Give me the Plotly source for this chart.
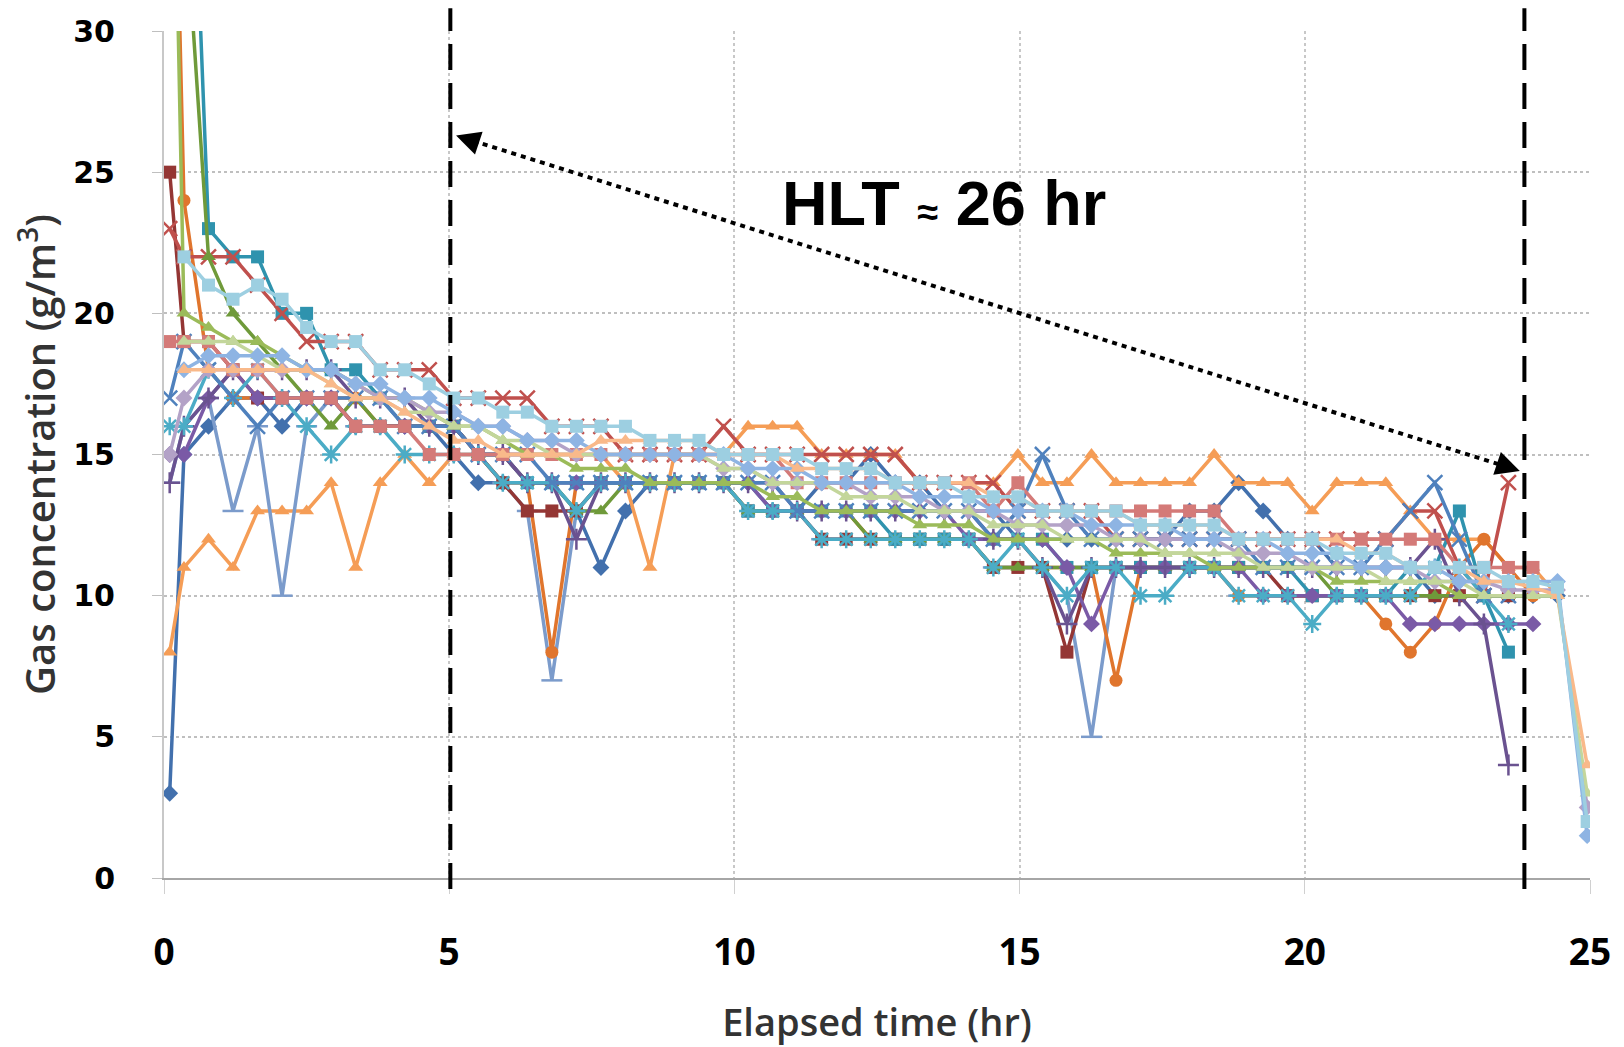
import plotly.graph_objects as go

# Sampling times (hr)
time_hr = [0.10, 0.35, 0.78, 1.21, 1.64, 2.07, 2.50, 2.93, 3.36, 3.79, 4.22, 4.65, 5.08, 5.51, 5.94,
           6.37, 6.80, 7.23, 7.66, 8.09, 8.52, 8.95, 9.38, 9.81, 10.24, 10.67, 11.10, 11.53, 11.96,
           12.39, 12.82, 13.25, 13.68, 14.11, 14.54, 14.97, 15.40, 15.83, 16.26, 16.69, 17.12, 17.55,
           17.98, 18.41, 18.84, 19.27, 19.70, 20.13, 20.56, 20.99, 21.42, 21.85, 22.28, 22.71, 23.14,
           23.57, 24.00, 24.43, 24.95]

# Gas concentration series (g/m3), one per test
s_blue_diamond = [3, 15, 16, 17, 17, 16, 17, 17, 16, 16, 16, 16, 15, 14, 14, 14, 14, 13, 11, 13, 14, 14, 14, 14,
                  14, 13, 13, 14, 14, 15, 14, 14, 13, 13, 13, 12, 12, 12, 12, 12, 12, 12, 13, 13, 14, 13, 12, 12,
                  11, 11, 11, 11, 10, 10, 10, 10, 10, 10, None]
s_orange_tri = [8, 11, 12, 11, 13, 13, 13, 14, 11, 14, 15, 14, 15, 15, 15, 15, 15, 15, 15, 14, 11, 15, 15, 15,
                16, 16, 16, 15, 15, 15, 15, 14, 14, 14, 14, 15, 14, 14, 15, 14, 14, 14, 14, 15, 14, 14, 14, 13,
                14, 14, 14, 13, 12, 12, 12, 11, 11, 10, None]
s_steel_dash = [14, 16, 17, 13, 16, 10, 16, 17, 16, 16, 16, 16, 16, 15, 14, 13, 7, 13, 14, 14, 14, 14, 14, 14,
                14, 13, 13, 12, 12, 12, 12, 12, 12, 12, 11, 11, 11, 10, 5, 11, 11, 11, 11, 11, 10, 10, 10, 10,
                10, 10, 10, 10, 10, 10, 10, 10, 10, None, None]
s_orange_circle = [45, 24, 18, 17, 17, 17, 17, 17, 17, 16, 16, 16, 16, 15, 14, 14, 8, 14, 14, 14, 14, 14, 14, 14,
                   13, 13, 13, 13, 13, 12, 12, 12, 12, 12, 12, 12, 11, 11, 11, 7, 11, 11, 11, 11, 10, 10, 10, 10,
                   10, 10, 9, 8, 9, 11, 12, 11, 10, None, None]
s_darkred_square = [25, 19, 19, 18, 17, 17, 17, 17, 16, 16, 16, 16, 16, 15, 14, 13, 13, 13, 14, 14, 14, 14, 14, 14,
                    13, 13, 13, 12, 12, 12, 12, 12, 12, 12, 11, 11, 11, 8, 11, 11, 11, 11, 11, 11, 11, 11, 10, 10,
                    10, 10, 10, 10, 10, 10, 10, 10, None, None, None]
s_teal_square = [45, 45, 23, 22, 22, 20, 20, 18, 18, 17, 16, 16, 16, 15, 15, 14, 14, 14, 14, 14, 14, 14, 14, 14,
                 13, 13, 13, 13, 13, 13, 12, 12, 12, 12, 12, 12, 12, 11, 11, 11, 11, 11, 11, 11, 11, 11, 11, 10,
                 10, 10, 10, 11, 11, 13, 10, 8, None, None, None]
s_red_x = [23, 22, 22, 22, 21, 20, 19, 19, 19, 18, 18, 18, 17, 17, 17, 17, 16, 16, 16, 15, 15, 15, 15, 16,
           15, 15, 15, 15, 15, 15, 15, 14, 14, 14, 14, 13, 13, 13, 13, 12, 12, 12, 12, 12, 12, 12, 12, 12,
           12, 12, 12, 13, 13, 11, 10, 14, None, None, None]
s_rose_square = [19, 19, 19, 18, 18, 17, 17, 17, 16, 16, 16, 15, 15, 15, 15, 15, 15, 15, 15, 15, 15, 15, 15, 15,
                 15, 15, 14, 14, 14, 14, 14, 14, 14, 14, 13, 14, 13, 13, 13, 13, 13, 13, 13, 13, 12, 12, 12, 12,
                 12, 12, 12, 12, 12, 11, 11, 11, 11, None, None]
s_green_tri = [45, 20, 19.5, 19, 19, 18.5, 18, 18, 17.5, 17, 17, 16.5, 16, 16, 15.5, 15, 15, 14.5, 14.5, 14.5,
               14, 14, 14, 14, 14, 13.5, 13.5, 13, 13, 13, 13, 12.5, 12.5, 12.5, 12, 12, 12, 12, 12, 11.5, 11.5,
               11.5, 11.5, 11, 11, 11, 11, 11, 10.5, 10.5, 10.5, 10.5, 10.5, 10, 10, 10, 10, 10, None]
s_olive_tri = [45, 35, 22, 20, 19, 18, 17, 16, 17, 16, 16, 16, 16, 15, 15, 14, 14, 13, 13, 14, 14, 14, 14, 14,
               13, 13, 13, 13, 13, 12, 12, 12, 12, 12, 11, 11, 11, 11, 11, 11, 11, 11, 11, 11, 11, 11, 11, 11,
               10, 10, 10, 10, 10, 10, 10, 10, 10, None, None]
s_purple_diamond = [15, 15, 17, 18, 17, 17, 17, 17, 16, 16, 16, 16, 16, 15, 15, 14, 14, 14, 14, 14, 14, 14, 14, 14,
                    14, 13, 13, 13, 13, 13, 13, 13, 13, 12, 12, 12, 12, 11, 9, 11, 11, 11, 11, 11, 11, 10, 10, 10,
                    10, 10, 10, 9, 9, 9, 9, 9, 9, None, None]
s_purple_plus = [14, 16, 17, 18, 18, 18, 18, 18, 17, 17, 17, 16, 16, 15, 15, 14, 14, 12, 14, 14, 14, 14, 14, 14,
                 14, 14, 13, 13, 13, 13, 13, 13, 13, 13, 12, 12, 11, 9, 11, 11, 11, 11, 11, 11, 11, 11, 11, 11,
                 11, 11, 11, 11, 12, 10, 9, 4, None, None, None]
s_aqua_star = [16, 16, 18, 17, 18, 17, 16, 15, 16, 16, 15, 15, 15, 15, 14, 14, 14, 13, 14, 14, 14, 14, 14, 14,
               13, 13, 13, 12, 12, 12, 12, 12, 12, 12, 11, 12, 11, 10, 11, 11, 10, 10, 11, 11, 10, 10, 10, 9,
               10, 10, 10, 10, 11, 11, 10, 9, None, None, None]
s_blue_x = [17, 19, 18, 17, 16, 17, 17, 17, 17, 17, 16, 16, 16, 15, 15, 15, 14, 14, 14, 14, 14, 14, 14, 14,
            14, 14, 13, 13, 13, 13, 13, 13, 13, 13, 12, 13, 15, 13, 12, 12, 12, 12, 12, 12, 12, 11, 11, 11,
            11, 11, 12, 13, 14, 12, 10, 10, None, None, None]
s_lavender = [15, 17, 18, 18, 18, 18, 18, 18, 17.5, 17, 17, 16.5, 16.5, 16, 16, 15.5, 15.5, 15, 15, 15, 15, 15,
              15, 14.5, 14.5, 14, 14, 14, 14, 13.5, 13.5, 13.5, 13, 13, 13, 12.5, 12.5, 12.5, 12.5, 12, 12, 12,
              12, 12, 11.5, 11.5, 11.5, 11, 11, 11, 11, 11, 10.5, 10.5, 10.5, 10.2, 10.2, 10.2, 2.5]
s_light_green = [None, 19, 19, 19, 18.5, 18, 18, 17.5, 17, 17, 16.5, 16.5, 16, 16, 15.5, 15.5, 15, 15, 15, 15, 15,
                 15, 15, 14.5, 14.5, 14, 14, 14, 13.5, 13.5, 13.5, 13, 13, 13, 12.5, 12.5, 12.5, 12, 12, 12, 12,
                 11.5, 11.5, 11.5, 11.5, 11, 11, 11, 11, 11, 10.5, 10.5, 10.5, 10.5, 10, 10, 10, 10, 3]
s_light_steel = [None, 18, 18.5, 18.5, 18.5, 18.5, 18, 18, 17.5, 17.5, 17, 17, 16.5, 16, 16, 15.5, 15.5, 15.5, 15,
                 15, 15, 15, 15, 15, 14.5, 14.5, 14.5, 14, 14, 14, 14, 13.5, 13.5, 13.5, 13, 13, 13, 13, 12.5,
                 12.5, 12.5, 12.5, 12, 12, 12, 12, 11.5, 11.5, 11.5, 11, 11, 11, 11, 10.5, 10.5, 10.5, 10.5, 10.5, 1.5]
s_peach_tri = [None, 18, 18, 18, 18, 18, 18, 17.5, 17, 17, 16.5, 16, 15.5, 15.5, 15, 15, 15, 15, 15.5, 15.5, 15.5,
               15.5, 15.5, 15, 15, 15, 14.5, 14.5, 14.5, 14.5, 14, 14, 14, 14, 13.5, 13.5, 13, 13, 13, 13, 12.5,
               12.5, 12.5, 12.5, 12, 12, 12, 12, 12, 11.5, 11.5, 11, 11, 11, 10.5, 10.5, 10.3, 10, 4]
s_lightblue_square = [None, 22, 21, 20.5, 21, 20.5, 19.5, 19, 19, 18, 18, 17.5, 17, 17, 16.5, 16.5, 16, 16, 16, 16,
                      15.5, 15.5, 15.5, 15, 15, 15, 15, 14.5, 14.5, 14.5, 14, 14, 14, 13.5, 13.5, 13.5, 13, 13, 13,
                      13, 12.5, 12.5, 12.5, 12.5, 12, 12, 12, 12, 11.5, 11.5, 11.5, 11, 11, 11, 11, 10.5, 10.5,
                      10.3, 2]

series = [
    ("Test 1", s_blue_diamond, "#4270AD", "diamond"),
    ("Test 2", s_orange_tri, "#F59D56", "triangle-up"),
    ("Test 3", s_steel_dash, "#7B9BCB", "line-ew-open"),
    ("Test 4", s_orange_circle, "#E0752D", "circle"),
    ("Test 5", s_darkred_square, "#943634", "square"),
    ("Test 6", s_teal_square, "#2F93AE", "square"),
    ("Test 7", s_red_x, "#C0504D", "x-thin-open"),
    ("Test 8", s_olive_tri, "#6F9A3A", "triangle-up"),
    ("Test 9", s_purple_diamond, "#7A5AA6", "diamond"),
    ("Test 10", s_purple_plus, "#6A5290", "cross-thin-open"),
    ("Test 11", s_aqua_star, "#4BACC6", "asterisk-open"),
    ("Test 12", s_blue_x, "#4F81BD", "x-thin-open"),
    ("Test 13", s_rose_square, "#D47A78", "square"),
    ("Test 14", s_green_tri, "#9BBB59", "triangle-up"),
    ("Test 15", s_lavender, "#B3A2C7", "diamond"),
    ("Test 16", s_light_green, "#C3D69B", "triangle-up"),
    ("Test 17", s_light_steel, "#8EB4E3", "diamond"),
    ("Test 18", s_peach_tri, "#F9B98A", "triangle-up"),
    ("Test 19", s_lightblue_square, "#9DCFE1", "square"),
]

fig = go.Figure()
for name, vals, color, sym in series:
    open_sym = sym.endswith("-open")
    fig.add_trace(go.Scatter(
        x=time_hr[:len(vals)], y=vals, name=name, mode="lines+markers",
        line=dict(color=color, width=3.5),
        marker=dict(symbol=sym, size=13 if not open_sym else 15, color=color,
                    line=dict(color=color, width=2.5 if open_sym else 0)),
        connectgaps=False, showlegend=False, cliponaxis=True,
    ))

# Half-life markers
hlt_start, hlt_end = 5.02, 23.85
for xv in (hlt_start, hlt_end):
    fig.add_shape(type="line", xref="x", yref="paper", x0=xv, x1=xv, y0=-0.013, y1=1.027,
                  line=dict(color="black", width=4, dash="26px,13px"))

arrow_left = (5.12, 26.3)
arrow_right = (23.77, 14.42)
fig.add_shape(type="line", xref="x", yref="y", x0=arrow_left[0] + 0.3, y0=arrow_left[1] - 0.19,
              x1=arrow_right[0] - 0.3, y1=arrow_right[1] + 0.19,
              line=dict(color="black", width=4, dash="5px,5px"))
fig.add_annotation(x=arrow_left[0], y=arrow_left[1], xref="x", yref="y", ax=24, ay=8, text="",
                   showarrow=True, arrowhead=2, arrowsize=1.6, arrowwidth=3, arrowcolor="black", standoff=0)
fig.add_annotation(x=arrow_right[0], y=arrow_right[1], xref="x", yref="y", ax=-24, ay=-8, text="",
                   showarrow=True, arrowhead=2, arrowsize=1.6, arrowwidth=3, arrowcolor="black", standoff=0)

fig.add_annotation(x=13.68, y=23.9, xref="x", yref="y", showarrow=False,
                   text="<b>HLT <span style='font-size:38px'>≈</span> 26 hr</b>",
                   font=dict(family="Liberation Sans, Arial", size=63, color="black"))

# The page body adds an 8 px offset, so margins are shifted to place the plot area as in the reference
fig.update_layout(
    width=1624, height=1047,
    margin=dict(l=156, r=42, t=23, b=177),
    paper_bgcolor="white", plot_bgcolor="white",
    showlegend=False,
)
fig.update_xaxes(
    range=[0, 25], tickvals=[0, 5, 10, 15, 20, 25], ticktext=["0", "5", "10", "15", "20", "25"],
    showgrid=True, gridcolor="#C8C8C8", griddash="dot", gridwidth=1.5,
    ticks="outside", ticklen=14, tickcolor="#D0D0D0",
    showline=True, linecolor="#A6A6A6", linewidth=2, zeroline=False,
    tickfont=dict(family="Open Sans", size=37, color="black", weight="bold"),
    ticklabelstandoff=27, automargin=False,
    title=dict(text="Elapsed time (hr)", standoff=34,
               font=dict(family="Open Sans", size=38, color="#333333", weight=600)),
)
fig.update_yaxes(
    range=[0, 30], tickvals=[0, 5, 10, 15, 20, 25, 30],
    showgrid=True, gridcolor="#BFBFBF", griddash="dot", gridwidth=1.5,
    ticks="outside", ticklen=10, tickcolor="#BFBFBF",
    showline=True, linecolor="#C8C8C8", linewidth=2, zeroline=False,
    tickfont=dict(family="DejaVu Sans", size=30, color="black", weight="bold"),
    ticklabelstandoff=31, automargin=False,
    title=dict(text="Gas concentration (g/m<sup>3</sup>)", standoff=14,
               font=dict(family="Open Sans", size=40, color="#333333", weight=600)),
)

fig.write_html("out.html")
